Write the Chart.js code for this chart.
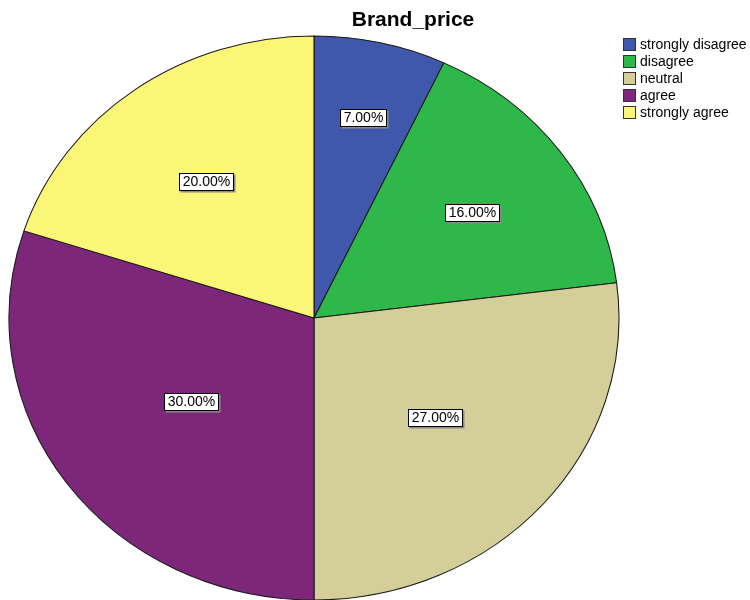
<!DOCTYPE html>
<html>
<head>
<meta charset="utf-8">
<script src="https://cdn.jsdelivr.net/npm/chart.js@4/dist/chart.umd.min.js"></script>
<style>
  html, body { margin: 0; padding: 0; background: #fff; }
  #wrap { width: 750px; height: 600px; }
</style>
</head>
<body>
<div id="wrap"><canvas id="pie" width="750" height="600"></canvas></div>
<script>
var titre = 'Brand_price';
var categories = ['strongly disagree', 'disagree', 'neutral', 'agree', 'strongly agree'];
var pourcentages = [7, 16, 27, 30, 20];
var couleurs = ['#3F58AB', '#2FB84A', '#D4CF98', '#7C277A', '#FBF578'];

var etirementX = 305 / 282; // pie is a bit wider than tall

// stretch the slices horizontally around the centre
var ovale = {
  id: 'ovale',
  beforeDatasetsDraw: function (chart) {
    var arc = chart.getDatasetMeta(0).data[0];
    var ctx = chart.ctx;
    ctx.save();
    ctx.translate(arc.x, 0);
    ctx.scale(etirementX, 1);
    ctx.translate(-arc.x, 0);
  },
  afterDatasetsDraw: function (chart) {
    chart.ctx.restore();
  }
};

// boxed percentage labels
var etiquettes = {
  id: 'etiquettes',
  afterDatasetsDraw: function (chart) {
    var ctx = chart.ctx;
    var meta = chart.getDatasetMeta(0);
    ctx.save();
    ctx.font = '14px "Liberation Sans", Arial, sans-serif';
    ctx.textAlign = 'center';
    ctx.textBaseline = 'middle';
    meta.data.forEach(function (arc, i) {
      var v = pourcentages[i];
      var mid = (arc.startAngle + arc.endAngle) / 2;
      var r = arc.outerRadius * (0.8 - 0.01 * v);
      var x = Math.round(arc.x + Math.cos(mid) * r * etirementX);
      var y = Math.round(arc.y + Math.sin(mid) * r);
      var txt = v.toFixed(2) + '%';
      var w = Math.ceil(ctx.measureText(txt).width) + 6;
      var h = 17;
      var bx = Math.round(x - w / 2) + 0.5;
      var by = Math.round(y - h / 2) + 0.5;
      ctx.fillStyle = '#8a8a8a';
      ctx.fillRect(bx + 1, by + 1, w + 1, h + 1);
      ctx.fillStyle = '#ffffff';
      ctx.fillRect(bx, by, w, h);
      ctx.strokeStyle = '#000';
      ctx.lineWidth = 1;
      ctx.strokeRect(bx, by, w, h);
      ctx.fillStyle = '#000';
      ctx.fillText(txt, x + 0.5, y + 1);
    });
    ctx.restore();
  }
};

// title and legend on the right
var habillage = {
  id: 'habillage',
  afterDraw: function (chart) {
    var ctx = chart.ctx;
    ctx.save();
    ctx.fillStyle = '#000';
    ctx.font = 'bold 21px "Liberation Sans", Arial, sans-serif';
    ctx.textAlign = 'center';
    ctx.textBaseline = 'middle';
    ctx.fillText(titre, 413, 20);

    ctx.font = '14px "Liberation Sans", Arial, sans-serif';
    ctx.textAlign = 'left';
    categories.forEach(function (c, i) {
      var y = 38 + i * 17;
      ctx.fillStyle = couleurs[i];
      ctx.fillRect(623.5, y + 0.5, 12, 12);
      ctx.strokeStyle = '#333';
      ctx.lineWidth = 1;
      ctx.strokeRect(623.5, y + 0.5, 12, 12);
      ctx.fillStyle = '#000';
      ctx.fillText(c, 640, y + 7);
    });
    ctx.restore();
  }
};

new Chart(document.getElementById('pie'), {
  type: 'pie',
  data: {
    labels: categories,
    datasets: [{
      data: pourcentages,
      backgroundColor: couleurs,
      borderColor: '#1a1a1a',
      borderWidth: 1,
      radius: 282
    }]
  },
  options: {
    responsive: false,
    animation: false,
    layout: { padding: { left: 14, right: 136, top: 36, bottom: 0 } },
    plugins: {
      legend: { display: false },
      title: { display: false },
      tooltip: { enabled: false }
    }
  },
  plugins: [ovale, etiquettes, habillage]
});
</script>
</body>
</html>
